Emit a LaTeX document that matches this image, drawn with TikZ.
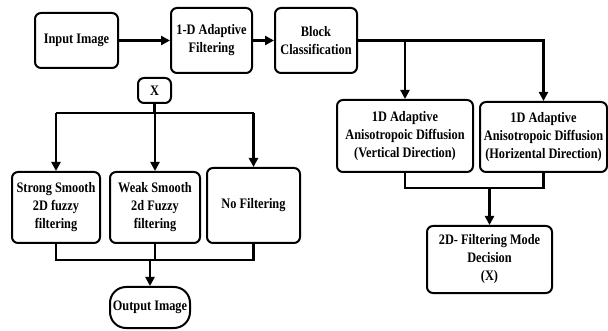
\documentclass[tikz,border=0pt]{standalone}
\usepackage{fontspec}
\setmainfont{Liberation Serif}[FakeStretch=0.85]
\usetikzlibrary{arrows.meta,calc}
\begin{document}
\begin{tikzpicture}[x=1pt,y=-1pt,
  box/.style={draw,line width=2pt,rounded corners=6pt,align=center,inner sep=0pt,
    font=\fontsize{14.5}{18}\selectfont\bfseries},
  conn/.style={line width=2.6pt},
  arr/.style={conn,-{Triangle[length=9pt,width=9pt]}}]
\useasboundingbox (0,0) rectangle (608,331);
\node[box,minimum width=83pt,minimum height=55pt] (in) at (76.5,40.5) {Input Image};
\node[box,minimum width=81pt,minimum height=65pt] (f1) at (211.5,40.5) {1-D Adaptive\\Filtering};
\node[box,minimum width=82pt,minimum height=65pt] (bc) at (316,40.5) {Block\\Classification};
\node[box,minimum width=33pt,minimum height=25pt] (x) at (154.5,90.5) {X};
\node[box,minimum width=88pt,minimum height=71pt] (ss) at (56,207.5) {Strong Smooth\\2D fuzzy\\filtering};
\node[box,minimum width=90pt,minimum height=71pt] (ws) at (155,207.5) {Weak Smooth\\2d Fuzzy\\filtering};
\node[box,minimum width=93pt,minimum height=75pt] (nf) at (253.5,205.5) {No Filtering};
\node[box,minimum width=80pt,minimum height=41pt,rounded corners=16pt] (out) at (150,307.5) {Output Image};
\node[box,minimum width=136pt,minimum height=72pt] (vd) at (405,136) {1D Adaptive\\Anisotropoic Diffusion\\(Vertical Direction)};
\node[box,minimum width=127pt,minimum height=70pt] (hd) at (543.5,137) {1D Adaptive\\Anisotropoic Diffusion\\(Horizental Direction)};
\node[box,minimum width=125pt,minimum height=67pt] (md) at (489.5,259.5) {2D- Filtering Mode\\Decision\\(X)};
% top row
\draw[arr] (in) -- (f1);
\draw[arr] (f1) -- (bc);
\draw[arr] (bc.east) -| (hd.north);
\coordinate (jv) at (bc.east -| vd.north);
\draw[arr] (jv) -- (vd.north);
% diffusion merge
\coordinate (mv) at ($(vd.south)+(0,15)$);
\draw[conn] (vd.south) -- (mv) -| (hd.south);
\coordinate (mm) at (mv -| md.north);
\draw[arr] (mm) -- (md.north);
% X branch
\coordinate (xs) at (154.5,113);
\draw[conn] (x.south) -- (xs);
\coordinate (xl) at (xs -| ss.north);
\coordinate (xr) at (xs -| nf.north);
\draw[conn] (xl) -- (xr);
\draw[arr] (xl) -- (ss.north);
\draw[arr] (xs -| ws.north) -- (ws.north);
\draw[arr] (xr) -- (nf.north);
% merge to output
\coordinate (ob) at (ss.south |- 0,260);
\draw[conn] (ss.south) -- (ob) -| (nf.south);
\draw[conn] (ws.south) -- (ws.south |- ob);
\coordinate (oj) at (ob -| out.north);
\draw[arr] (oj) -- (out.north);
\end{tikzpicture}
\end{document}
